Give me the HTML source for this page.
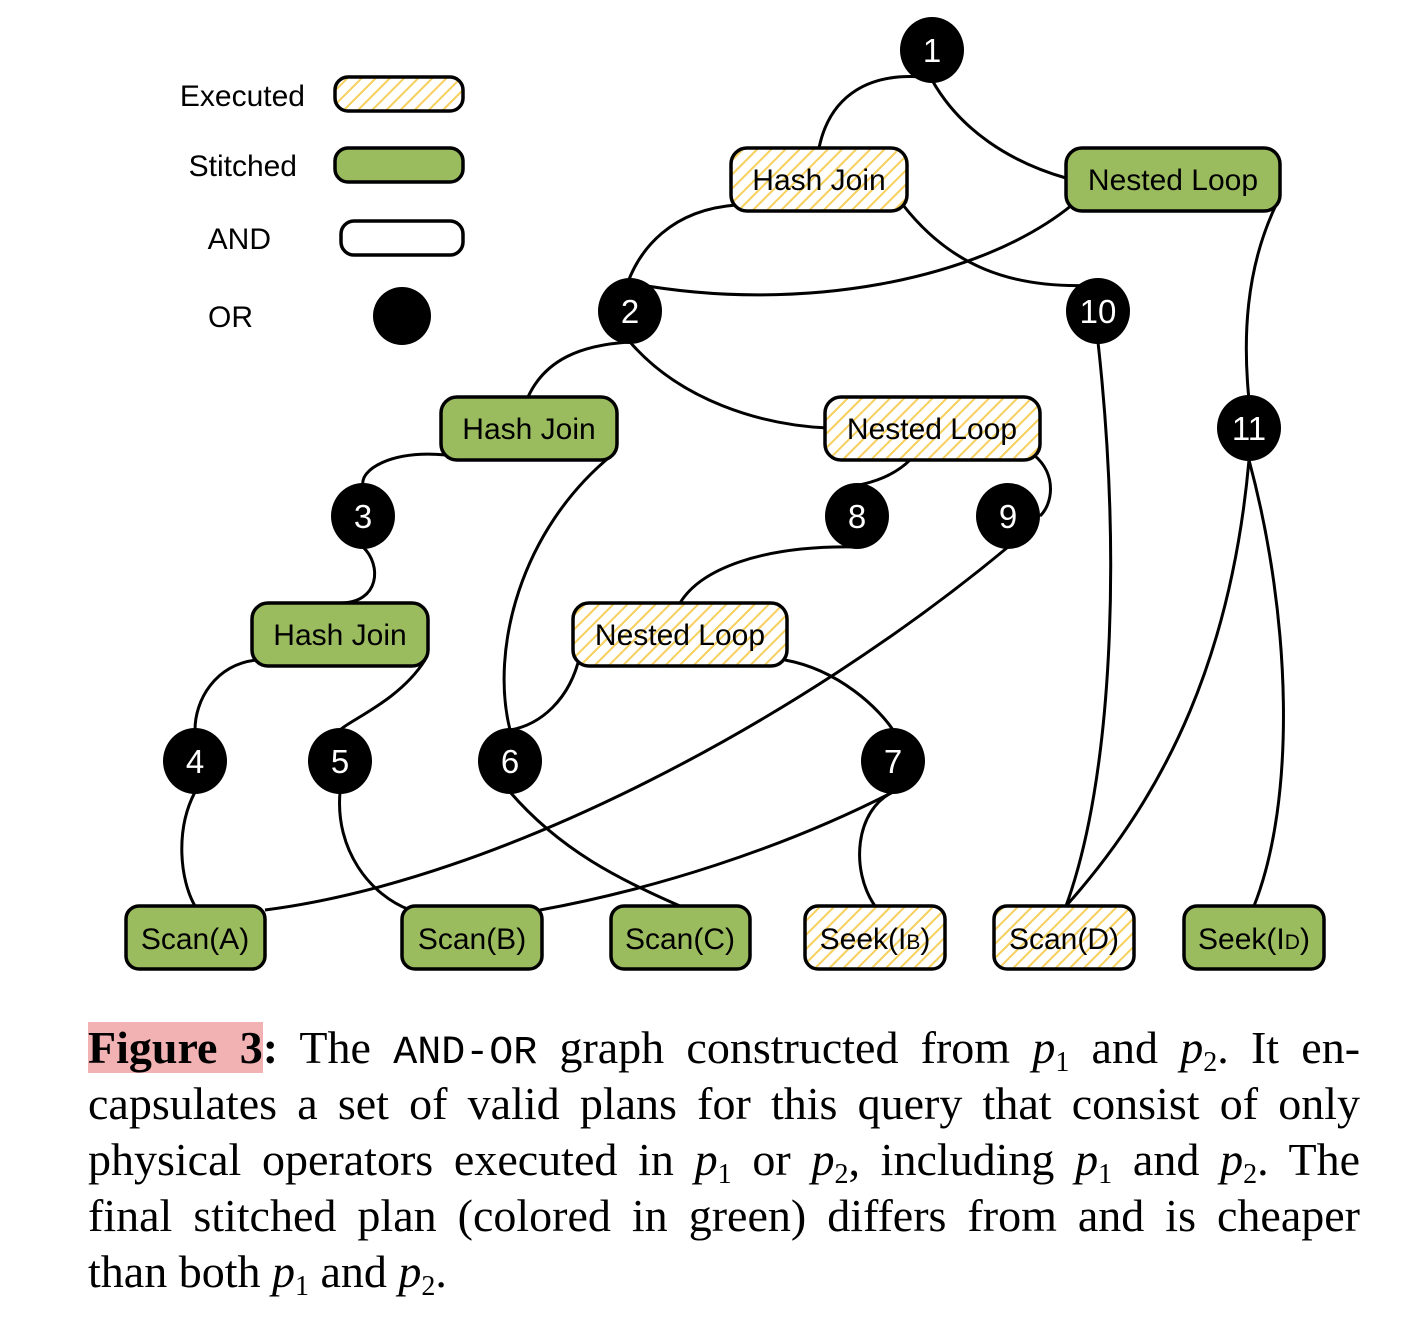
<!DOCTYPE html>
<html><head><meta charset="utf-8">
<style>
html,body{margin:0;padding:0;background:#fff;}
body{width:1406px;height:1328px;position:relative;overflow:hidden;}
svg{position:absolute;left:0;top:0;}
.cap{position:absolute;left:88px;width:1272px;font-family:"Liberation Serif",serif;font-size:46px;line-height:56px;white-space:nowrap;}
.j{text-align:justify;text-align-last:justify;white-space:normal;}
.m{font-style:italic;}
sub{font-size:28px;font-style:normal;vertical-align:-8px;line-height:0;}
.tt{font-family:"Liberation Mono",monospace;font-size:40px;}
.hl{background:#f2b1b3;font-weight:bold;}
</style></head><body>
<svg width="1406" height="1000" viewBox="0 0 1406 1000">
<defs>
<pattern id="h" patternUnits="userSpaceOnUse" width="10" height="10" patternTransform="rotate(45)">
<rect width="10" height="10" fill="#fff"/>
<rect x="0" y="0" width="2" height="10" fill="#f6cf5c"/>
</pattern>
</defs>
<g fill="none" stroke="#000" stroke-width="3">
<path d="M932,78 C870,70 830,95 819,148"/>
<path d="M932,80 C960,130 1010,162 1066,178"/>
<path d="M736,205 C670,210 640,250 628,282"/>
<path d="M630,283 C800,315 980,280 1072,205"/>
<path d="M903,205 C950,265 1010,290 1098,285"/>
<path d="M1276,205 C1245,270 1243,340 1249,400"/>
<path d="M630,342 C580,345 545,360 528,397"/>
<path d="M630,342 C680,400 760,425 828,428"/>
<path d="M446,455 C390,450 360,470 363,485"/>
<path d="M612,455 C520,530 490,650 510,730"/>
<path d="M910,460 C890,480 860,485 857,485"/>
<path d="M1034,455 C1058,475 1052,505 1040,516"/>
<path d="M363,547 C382,565 380,603 340,603"/>
<path d="M857,547 C760,545 700,570 680,603"/>
<path d="M1008,547 C800,720 500,880 265,910"/>
<path d="M1098,342 C1122,560 1112,780 1066,906"/>
<path d="M1249,460 C1232,650 1170,790 1066,906"/>
<path d="M1249,460 C1292,620 1296,800 1254,906"/>
<path d="M256,660 C215,665 195,700 195,730"/>
<path d="M425,660 C400,700 350,720 340,730"/>
<path d="M580,655 C570,700 540,725 510,730"/>
<path d="M785,660 C840,670 880,710 893,730"/>
<path d="M195,792 C175,830 180,880 195,906"/>
<path d="M340,792 C335,850 370,895 410,910"/>
<path d="M510,792 C560,850 620,880 680,906"/>
<path d="M893,792 C780,850 650,890 540,910"/>
<path d="M893,792 C855,810 850,870 875,906"/>
</g>
<g stroke="#000" stroke-width="3.5">
<rect x="335" y="77" width="128" height="34" rx="13" fill="url(#h)"/>
<rect x="335" y="148" width="128" height="34" rx="13" fill="#9bbb5f"/>
<rect x="341" y="221" width="122" height="34" rx="13" fill="#fff"/>
<rect x="731" y="148" width="176" height="63" rx="16" fill="url(#h)"/>
<rect x="1066" y="148" width="214" height="63" rx="16" fill="#9bbb5f"/>
<rect x="441" y="397" width="176" height="63" rx="16" fill="#9bbb5f"/>
<rect x="825" y="397" width="215" height="63" rx="16" fill="url(#h)"/>
<rect x="252" y="603" width="176" height="63" rx="16" fill="#9bbb5f"/>
<rect x="573" y="603" width="214" height="63" rx="16" fill="url(#h)"/>
<rect x="126" y="906" width="139" height="63" rx="13" fill="#9bbb5f"/>
<rect x="402" y="906" width="140" height="63" rx="13" fill="#9bbb5f"/>
<rect x="611" y="906" width="139" height="63" rx="13" fill="#9bbb5f"/>
<rect x="805" y="906" width="140" height="63" rx="13" fill="url(#h)"/>
<rect x="994" y="906" width="140" height="63" rx="13" fill="url(#h)"/>
<rect x="1184" y="906" width="140" height="63" rx="13" fill="#9bbb5f"/>
</g>
<g fill="#000">
<circle cx="402" cy="316" r="29"/>
<ellipse cx="932" cy="50" rx="32" ry="33"/>
<ellipse cx="630" cy="311" rx="32" ry="33"/>
<ellipse cx="1098" cy="311" rx="32" ry="33"/>
<ellipse cx="1249" cy="428" rx="32" ry="33"/>
<ellipse cx="363" cy="516" rx="32" ry="33"/>
<ellipse cx="857" cy="516" rx="32" ry="33"/>
<ellipse cx="1008" cy="516" rx="32" ry="33"/>
<ellipse cx="195" cy="761" rx="32" ry="33"/>
<ellipse cx="340" cy="761" rx="32" ry="33"/>
<ellipse cx="510" cy="761" rx="32" ry="33"/>
<ellipse cx="893" cy="761" rx="32" ry="33"/>
</g>
<g font-family="Liberation Sans, sans-serif" font-size="33" fill="#fff" text-anchor="middle">
<text x="932" y="62">1</text><text x="630" y="323">2</text><text x="1098" y="323">10</text>
<text x="1249" y="440">11</text><text x="363" y="528">3</text><text x="857" y="528">8</text>
<text x="1008" y="528">9</text><text x="195" y="773">4</text><text x="340" y="773">5</text>
<text x="510" y="773">6</text><text x="893" y="773">7</text>
</g>
<g font-family="Liberation Sans, sans-serif" font-size="30" fill="#000" text-anchor="middle">
<text x="819" y="190">Hash Join</text>
<text x="1173" y="190">Nested Loop</text>
<text x="529" y="439">Hash Join</text>
<text x="932" y="439">Nested Loop</text>
<text x="340" y="645">Hash Join</text>
<text x="680" y="645">Nested Loop</text>
<text x="195" y="949">Scan(A)</text>
<text x="472" y="949">Scan(B)</text>
<text x="680" y="949">Scan(C)</text>
<text x="875" y="949">Seek(I<tspan font-size="21">B</tspan>)</text>
<text x="1064" y="949">Scan(D)</text>
<text x="1254" y="949">Seek(I<tspan font-size="21">D</tspan>)</text>
</g>
<g font-family="Liberation Sans, sans-serif" font-size="30" fill="#000" text-anchor="end">
<text x="305" y="106">Executed</text>
<text x="297" y="176">Stitched</text>
<text x="271" y="249">AND</text>
<text x="253" y="327">OR</text>
</g>
</svg>
<div class="cap j" style="top:1020px"><span class="hl">Figure&nbsp;3</span><b>:</b> The <span class="tt">AND-OR</span> graph constructed from <span class="m">p</span><sub>1</sub> and <span class="m">p</span><sub>2</sub>. It en-</div>
<div class="cap j" style="top:1076px">capsulates a set of valid plans for this query that consist of only</div>
<div class="cap j" style="top:1132px">physical operators executed in <span class="m">p</span><sub>1</sub> or <span class="m">p</span><sub>2</sub>, including <span class="m">p</span><sub>1</sub> and <span class="m">p</span><sub>2</sub>. The</div>
<div class="cap j" style="top:1188px">final stitched plan (colored in green) differs from and is cheaper</div>
<div class="cap" style="top:1244px">than both <span class="m">p</span><sub>1</sub> and <span class="m">p</span><sub>2</sub>.</div>
</body></html>
